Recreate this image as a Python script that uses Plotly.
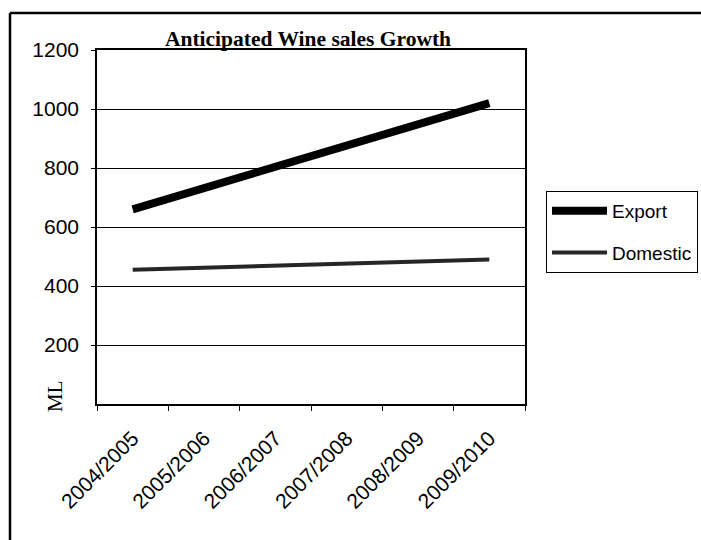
import plotly.graph_objects as go

seasons = ["2004/2005", "2005/2006", "2006/2007", "2007/2008", "2008/2009", "2009/2010"]
export_ml = [660, 732, 804, 876, 948, 1020]
domestic_ml = [455, 462, 469, 476, 483, 490]
y_ticks = [200, 400, 600, 800, 1000, 1200]

W, H = 701, 540
L, R, T, B = 97, 525, 50, 404  # plot area in pixels

def px_x(px):
    return (px - L) / (R - L)

def px_y(py):
    return (B - py) / (B - T)

fig = go.Figure()
fig.add_trace(go.Scatter(
    x=seasons, y=export_ml, name="Export", mode="lines",
    line=dict(color="#000000", width=8), legendgroup="a"))
fig.add_trace(go.Scatter(
    x=seasons, y=domestic_ml, name="Domestic", mode="lines",
    line=dict(color="#262626", width=4), legendgroup="b"))

fig.update_layout(
    width=W, height=H,
    margin=dict(l=L, r=W - R, t=T, b=H - B, autoexpand=False),
    paper_bgcolor="white", plot_bgcolor="white",
    font=dict(family="Liberation Sans, Arial", color="black", size=20),
    title=dict(text="<b>Anticipated Wine sales Growth</b>",
               font=dict(family="Liberation Serif, Times New Roman", size=21.5, color="black"),
               xref="container", x=308 / W, xanchor="center",
               yref="container", y=1 - 38 / H, yanchor="middle"),
    showlegend=True,
    legend=dict(x=px_x(546), y=px_y(191), xanchor="left", yanchor="top",
                bordercolor="black", borderwidth=1, bgcolor="white",
                font=dict(size=19, family="Liberation Sans, Arial"),
                traceorder="grouped", tracegroupgap=14, entrywidth=150,
                itemwidth=55),
)

fig.update_xaxes(
    type="category", range=[-0.5, 5.5],
    showline=True, linecolor="black", linewidth=1.5, mirror=True,
    ticks="outside", ticklen=5, tickcolor="black", tickson="boundaries",
    tickangle=-45, tickfont=dict(size=21), ticklabelstandoff=12,
    showgrid=False, zeroline=False)

fig.update_yaxes(
    range=[0, 1200], tickvals=y_ticks,
    showline=True, linecolor="black", linewidth=1.5, mirror=True,
    ticks="outside", ticklen=4, tickcolor="black", ticklabelstandoff=8,
    tickfont=dict(size=21),
    showgrid=True, gridcolor="black", gridwidth=1, zeroline=False)

# y-axis label "ML"
fig.add_annotation(text="ML", xref="paper", yref="paper",
                   x=px_x(55), y=px_y(396), showarrow=False, textangle=-90,
                   font=dict(family="Liberation Serif, Times New Roman", size=21, color="black"),
                   xanchor="center", yanchor="middle")

# outer chart frame (left and top edges)
fig.add_shape(type="line", xref="paper", yref="paper",
              x0=px_x(10), x1=px_x(10), y0=px_y(13), y1=px_y(545),
              line=dict(color="black", width=2.5))
fig.add_shape(type="line", xref="paper", yref="paper",
              x0=px_x(10), x1=px_x(705), y0=px_y(13), y1=px_y(13),
              line=dict(color="black", width=2.5))

fig.write_html("out.html", config={"displayModeBar": False})
